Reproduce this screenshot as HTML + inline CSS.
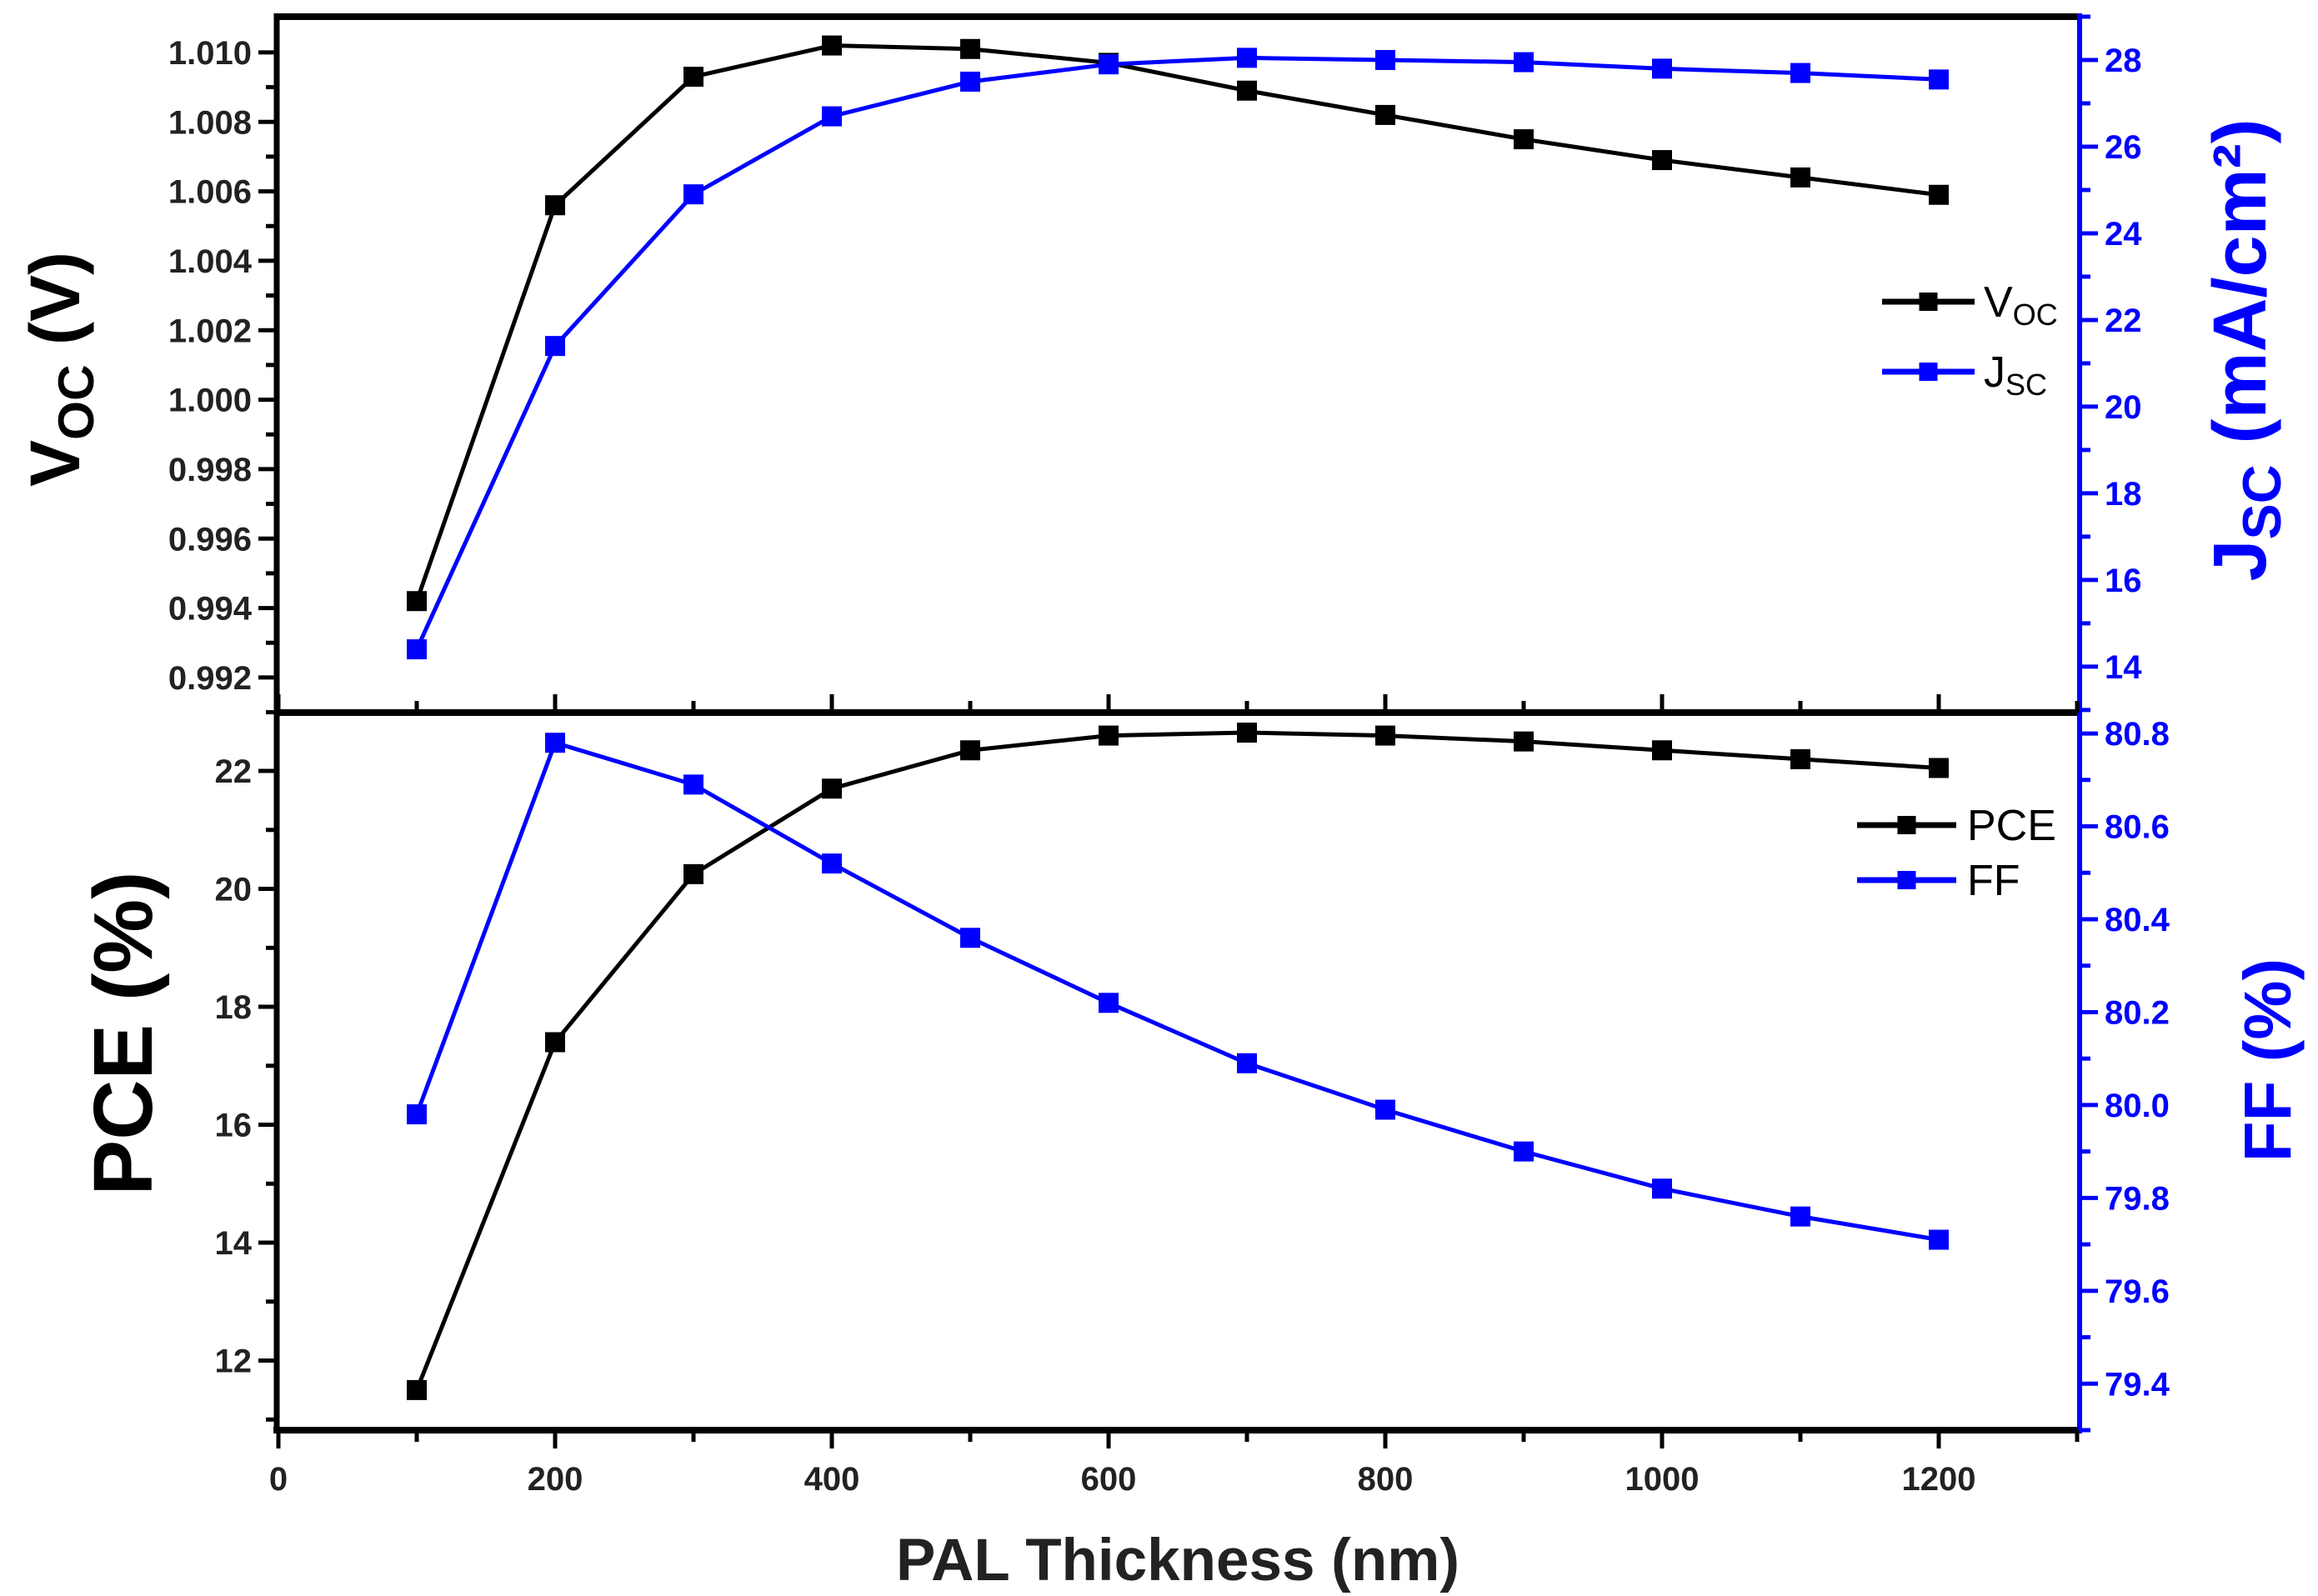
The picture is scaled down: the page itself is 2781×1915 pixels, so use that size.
<!DOCTYPE html>
<html><head><meta charset="utf-8"><style>
html,body{margin:0;padding:0;background:#fff;}
svg{display:block;font-family:"Liberation Sans",Arial,sans-serif;}
</style></head><body>
<svg id="chart" width="2781" height="1915" viewBox="0 0 2781 1915" xmlns="http://www.w3.org/2000/svg">
<g id="g"></g>
</svg>
<script>
const thickness = [100,200,300,400,500,600,700,800,900,1000,1100,1200];
const vocValues = [0.9942,1.0056,1.0093,1.0102,1.0101,1.0097,1.0089,1.0082,1.0075,1.0069,1.0064,1.0059];
const jscValues = [14.4,21.4,24.9,26.7,27.5,27.9,28.05,28.0,27.95,27.8,27.7,27.55];
const pceValues = [11.5,17.4,20.25,21.7,22.35,22.6,22.65,22.6,22.5,22.35,22.2,22.05];
const ffValues = [79.98,80.78,80.69,80.52,80.36,80.22,80.09,79.99,79.90,79.82,79.76,79.71];
const xTickLabels = ["0","200","400","600","800","1000","1200"];
const vocTickLabels = ["0.992","0.994","0.996","0.998","1.000","1.002","1.004","1.006","1.008","1.010"];
const jscTickLabels = ["14","16","18","20","22","24","26","28"];
const pceTickLabels = ["12","14","16","18","20","22"];
const ffTickLabels = ["79.4","79.6","79.8","80.0","80.2","80.4","80.6","80.8"];

const NS="http://www.w3.org/2000/svg";
const g=document.getElementById('g');
const L=332,R=2495,T=20,M=855,B=1716;
const BLUE="#0000ff";
function lin(d0,d1,r0,r1){return v=>r0+(v-d0)/(d1-d0)*(r1-r0);}
const x=lin(0,1300,334,2492);
const yV=lin(0.99099,1.01103,M,T);
const yJ=lin(12.94,29.0,M,T);
const yP=lin(10.82,22.99,B,M);
const yF=lin(79.30,80.845,B,M);
function el(tag,attrs,parent){const e=document.createElementNS(NS,tag);for(const k in attrs)e.setAttribute(k,attrs[k]);(parent||g).appendChild(e);return e;}
function line(x1,y1,x2,y2,stroke,w,name){const e=el('line',{x1,y1,x2,y2,stroke,'stroke-width':w});

return e;}
function text(tx,ty,str,size,fill,anchor,name,weight){const e=el('text',{x:tx,y:ty,'font-size':size,fill,'text-anchor':anchor,'font-weight':weight||'bold'});e.textContent=str;

return e;}

line(L,T,R,T,'#000',8,'top-frame');
line(L,M,R,M,'#000',8,'panel-divider');
line(L-4,B,R,B,'#000',8,'x-axis');
line(L,T-4,L,B+4,'#000',7,'left-axis');
line(R,T-4,R,B+4,BLUE,6,'right-axis');

for(let v=0;v<=1300;v+=100){
  const major=v%200===0;
  line(x(v),B,x(v),B+(major?22:14),'#000',5,'x-tick');
  line(x(v),M,x(v),M-(major?22:14),'#000',5,'x-tick-top');
}
xTickLabels.forEach(s=>{text(x(+s),B+72,s,40,'#222','middle','x-tick-label');});
for(let i=0;i<=19;i++){const v=0.991+i*0.001;const major=i%2===1;
  line(L,yV(v),L-(major?22:13),yV(v),'#000',5,'voc-tick');}
vocTickLabels.forEach(s=>{text(L-30,yV(+s)+14,s,40,'#222','end','voc-tick-label');});
for(let v=13;v<=29;v++){const major=v%2===0;
  line(R,yJ(v),R+(major?22:13),yJ(v),BLUE,5,'jsc-tick');}
jscTickLabels.forEach(s=>{text(R+30,yJ(+s)+14,s,40,BLUE,'start','jsc-tick-label');});
for(let v=11;v<=22;v++){const major=v%2===0;
  line(L,yP(v),L-(major?22:13),yP(v),'#000',5,'pce-tick');}
pceTickLabels.forEach(s=>{text(L-30,yP(+s)+14,s,40,'#222','end','pce-tick-label');});
for(let i=0;i<=15;i++){const v=79.3+i*0.1;const major=i%2===1;
  line(R,yF(v),R+(major?22:13),yF(v),BLUE,5,'ff-tick');}
ffTickLabels.forEach(s=>{text(R+30,yF(+s)+14,s,40,BLUE,'start','ff-tick-label');});

function series(vals,yf,color,w,name){
  const pts=thickness.map((t,i)=>x(t)+','+yf(vals[i])).join(' ');
  const p=el('polyline',{points:pts,fill:'none',stroke:color,'stroke-width':w});
  
  
  thickness.forEach((t,i)=>{const r=el('rect',{x:x(t)-12,y:yf(vals[i])-12,width:24,height:24,fill:color});
    
    });
}
series(vocValues,yV,'#000',5,'voc');
series(jscValues,yJ,BLUE,5,'jsc');
series(pceValues,yP,'#000',5,'pce');
series(ffValues,yF,BLUE,5,'ff');

function legend(y,color,label,sub,x1,x2,tx,name){
  line(x1,y,x2,y,color,7,name+'-swatch');
  const r=el('rect',{x:(x1+x2)/2-11,y:y-11,width:22,height:22,fill:color});
  
  
  const t=text(tx,y+18,label,52,'#000','start',name+'-label','normal');
  if(sub){const ts=el('tspan',{'font-size':36,dy:10},t);ts.textContent=sub;}
}
legend(362,'#000','V','OC',2258,2369,2380,'legend-voc');
legend(446,BLUE,'J','SC',2258,2369,2380,'legend-jsc');
legend(990,'#000','PCE','',2228,2347,2360,'legend-pce');
legend(1056,BLUE,'FF','',2228,2347,2360,'legend-ff');

function vtitle(cx,cy,main,sub,rest,color,name,size){
  const t=el('text',{x:0,y:0,'font-size':size,'font-weight':'bold',fill:color,'text-anchor':'middle',transform:`translate(${cx},${cy}) rotate(-90)`});
  
  
  const a=el('tspan',{},t);a.textContent=main;
  if(sub){const b=el('tspan',{'font-size':size*0.72,dy:size*0.2},t);b.textContent=sub;
    const c=el('tspan',{dy:-size*0.2},t);c.textContent=rest;}
  else{a.textContent=main+rest;}
}
vtitle(95,443,'V','OC',' (V)','#000','voc-axis-title',84);
vtitle(2718,420,'J','SC',' (mA/cm²)',BLUE,'jsc-axis-title',90);
vtitle(182,1240,'PCE','',' (%)','#000','pce-axis-title',100);
vtitle(2748,1272,'FF','',' (%)',BLUE,'ff-axis-title',80);
text(1413,1896,'PAL Thickness (nm)',71,'#222','middle','x-axis-title');
</script>
</body></html>
